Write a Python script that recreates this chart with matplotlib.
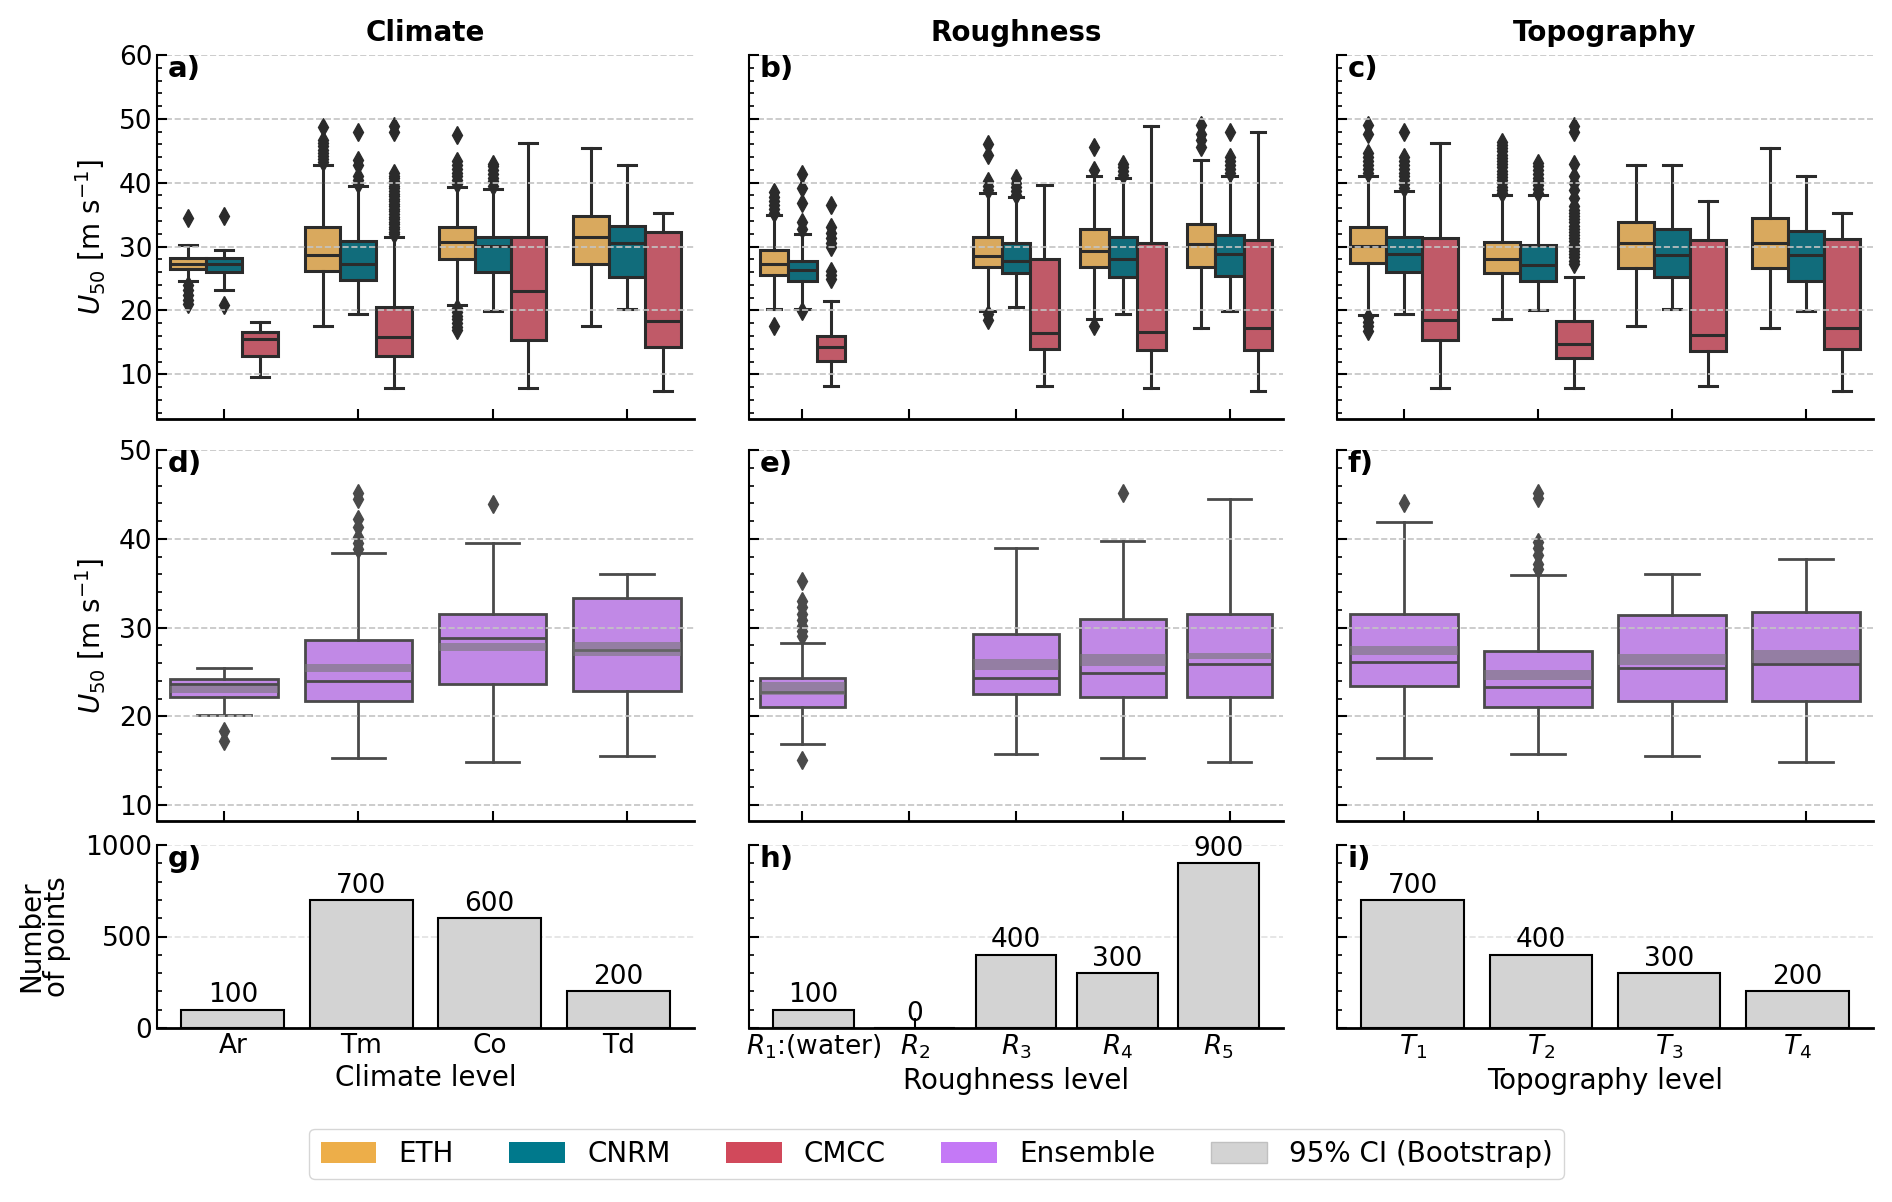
import colorsys
import matplotlib
matplotlib.use('Agg')
import matplotlib.pyplot as plt
from matplotlib.colors import to_rgb
from matplotlib.patches import Patch
from matplotlib.ticker import AutoMinorLocator, MultipleLocator

# ---------------- data ----------------
climate_levels = ['Ar', 'Tm', 'Co', 'Td']
rough_levels = ['$R_1$:(water)', '$R_2$', '$R_3$', '$R_4$', '$R_5$']
topo_levels = ['$T_1$', '$T_2$', '$T_3$', '$T_4$']

# box stats per level: (q1, median, q3, lower whisker, upper whisker)
eth_climate = [(26.5, 27.3, 28.2, 24.6, 30.3), (26.1, 28.7, 33.1, 17.6, 42.7),
               (28.0, 30.7, 33.1, 20.9, 39.3), (27.3, 31.5, 34.8, 17.6, 45.4)]
cnrm_climate = [(26.0, 27.2, 28.2, 23.2, 29.4), (24.8, 27.3, 30.8, 19.5, 39.5),
                (26.0, 30.1, 31.5, 19.9, 39.0), (25.3, 30.5, 33.3, 20.2, 42.8)]
cmcc_climate = [(12.9, 15.6, 16.6, 9.6, 18.2), (12.9, 15.8, 20.5, 7.8, 31.5),
                (15.3, 23.0, 31.5, 7.8, 46.2), (14.2, 18.4, 32.3, 7.4, 35.3)]
eth_climate_fliers = [[34.4, 24.0, 23.2, 22.4, 21.6, 21.0],
                      [43.2, 43.7, 44.2, 44.7, 45.2, 45.7, 46.2, 46.7, 48.8],
                      [39.8, 40.4, 41.0, 41.6, 42.2, 42.8, 43.4, 47.4,
                       20.4, 19.8, 19.2, 18.6, 18.0, 17.4, 16.9],
                      []]
cnrm_climate_fliers = [[34.8, 20.8],
                       [39.8, 40.4, 41.0, 42.8, 43.5, 48.0],
                       [39.5, 40.2, 40.8, 41.4, 42.0, 42.6, 43.0],
                       []]
cmcc_climate_fliers = [[],
                       [31.9, 32.3, 32.7, 33.1, 33.5, 33.9, 34.3, 34.7, 35.1, 35.5,
                        35.9, 36.3, 36.7, 37.1, 37.5, 37.9, 38.3, 38.7, 39.1, 39.5,
                        39.9, 40.3, 40.7, 41.1, 41.6, 47.9, 48.9],
                       [],
                       []]

eth_rough = [(25.5, 27.3, 29.4, 20.3, 34.9), None, (26.8, 28.5, 31.5, 19.9, 38.4),
             (26.8, 29.3, 32.7, 18.6, 41.0), (26.8, 30.4, 33.6, 17.2, 43.5)]
cnrm_rough = [(24.6, 26.3, 27.8, 20.3, 31.9), None, (25.9, 27.8, 30.6, 20.5, 37.7),
              (25.3, 28.1, 31.5, 19.4, 40.8), (25.4, 28.8, 31.8, 19.9, 41.1)]
cmcc_rough = [(12.1, 14.3, 16.0, 8.2, 21.4), None, (13.9, 16.5, 28.1, 8.2, 39.6),
              (13.8, 16.6, 30.5, 7.8, 48.9), (13.8, 17.2, 31.1, 7.4, 47.9)]
eth_rough_fliers = [[35.3, 35.9, 36.5, 37.1, 37.8, 38.6, 17.5], [],
                    [38.8, 39.5, 40.3, 44.3, 46.1, 19.5, 18.5],
                    [42.0, 45.6, 17.5],
                    [45.6, 46.7, 47.7, 49.0]]
cnrm_rough_fliers = [[32.8, 33.8, 36.9, 39.2, 41.3, 19.9], [],
                     [38.1, 38.7, 39.4, 40.0, 40.7],
                     [41.2, 41.8, 42.4, 43.0],
                     [41.5, 42.1, 42.7, 43.4, 44.0, 48.0]]
cmcc_rough_fliers = [[24.9, 25.5, 26.2, 29.9, 30.6, 31.4, 32.2, 33.0, 36.5], [], [], [], []]

eth_topo = [(27.4, 30.1, 33.1, 19.3, 41.0), (25.9, 28.0, 30.7, 18.6, 38.0),
            (26.7, 30.5, 33.9, 17.6, 42.7), (26.7, 30.6, 34.5, 17.2, 45.4)]
cnrm_topo = [(26.0, 28.9, 31.5, 19.4, 38.7), (24.6, 27.1, 30.2, 20.1, 38.0),
             (25.3, 28.75, 32.8, 20.2, 42.7), (24.6, 28.75, 32.5, 19.9, 41.1)]
cmcc_topo = [(15.4, 18.5, 31.4, 7.9, 46.2), (12.6, 14.8, 18.3, 7.8, 25.3),
             (13.6, 16.2, 31.0, 8.1, 37.2), (13.9, 17.3, 31.2, 7.4, 35.3)]
eth_topo_fliers = [[41.6, 42.2, 42.8, 43.4, 44.0, 44.6, 47.7, 49.0, 18.9, 18.2, 17.5, 16.8],
                   [38.4, 38.9, 39.4, 39.9, 40.4, 40.9, 41.4, 41.9, 42.4, 42.9, 43.4,
                    43.9, 44.4, 44.9, 45.4, 45.9, 46.4],
                   [], []]
cnrm_topo_fliers = [[39.2, 39.8, 40.4, 41.0, 41.6, 42.2, 42.8, 43.4, 44.0, 48.0],
                    [38.4, 39.0, 39.6, 40.2, 40.8, 41.4, 42.0, 42.6, 43.1],
                    [], []]
cmcc_topo_fliers = [[],
                    [27.3, 27.8, 28.3, 28.8, 29.3, 29.8, 30.3, 30.8, 31.3, 31.8, 32.3,
                     32.8, 33.3, 33.8, 34.3, 34.8, 35.3, 35.8, 36.3, 37.6, 38.8, 39.9,
                     41.1, 43.0, 47.9, 48.9],
                    [], []]

# ensemble boxes, fliers and bootstrap 95% CI (low, high)
ens_climate = [(22.2, 23.6, 24.2, 20.1, 25.4), (21.7, 24.0, 28.6, 15.3, 38.4),
               (23.6, 28.8, 31.5, 14.9, 39.5), (22.9, 27.5, 33.3, 15.5, 36.0)]
ens_climate_fliers = [[18.3, 17.2], [38.9, 39.5, 40.2, 41.3, 42.2, 44.5, 45.2], [43.9], []]
ens_climate_ci = [(22.6, 23.4), (25.0, 25.9), (27.3, 28.3), (26.8, 28.4)]

ens_rough = [(21.0, 22.7, 24.3, 16.9, 28.2), None, (22.5, 24.3, 29.3, 15.7, 39.0),
             (22.2, 24.9, 31.0, 15.3, 39.7), (22.2, 25.9, 31.5, 14.9, 44.5)]
ens_rough_fliers = [[29.0, 29.6, 30.2, 30.8, 31.5, 32.3, 33.0, 35.2, 15.1], [], [], [45.1], []]
ens_rough_ci = [(22.4, 23.9), None, (25.2, 26.4), (25.7, 27.0), (26.4, 27.1)]

ens_topo = [(23.4, 26.1, 31.5, 15.3, 41.9), (21.1, 23.3, 27.4, 15.7, 35.9),
            (21.7, 25.4, 31.4, 15.5, 36.0), (21.7, 25.9, 31.7, 14.9, 37.7)]
ens_topo_fliers = [[44.0], [36.6, 37.2, 38.2, 39.0, 39.6, 44.6, 45.1], [], []]
ens_topo_ci = [(26.9, 27.9), (24.1, 25.2), (25.8, 27.0), (26.0, 27.5)]

climate_counts = [100, 700, 600, 200]
rough_counts = [100, 0, 400, 300, 900]
topo_counts = [700, 400, 300, 200]

# ---------------- style ----------------
model_names = ['ETH', 'CNRM', 'CMCC']
model_colors = ['#edae49', '#00798c', '#d1495b']
ens_color = '#c479f6'
ci_color = '#d3d3d3'
FS = 20


def desaturate(color, prop=0.75):
    h, l, s = colorsys.rgb_to_hls(*to_rgb(color))
    return colorsys.hls_to_rgb(h, l, s * prop)


def box_stats(vals, fliers):
    q1, med, q3, lo, hi = vals
    return {'q1': q1, 'med': med, 'q3': q3, 'whislo': lo, 'whishi': hi, 'fliers': fliers}


def draw_boxes(ax, stats, fliers, positions, width, face, edge, lw):
    for s, f, p in zip(stats, fliers, positions):
        if s is None:
            continue
        ax.bxp([box_stats(s, f)], positions=[p], widths=width, patch_artist=True,
               manage_ticks=False,
               boxprops=dict(facecolor=face, edgecolor=edge, linewidth=lw),
               medianprops=dict(color=edge, linewidth=lw),
               whiskerprops=dict(color=edge, linewidth=lw),
               capprops=dict(color=edge, linewidth=lw),
               flierprops=dict(marker='d', markerfacecolor=edge, markeredgecolor=edge,
                               markersize=9, linestyle='none'))


def style_axes(ax, n, ylim, major, minor_n, set_x=True):
    if set_x:
        ax.set_xlim(-0.5, n - 0.5)
    ax.set_ylim(*ylim)
    ax.set_xticks(range(n))
    ax.yaxis.set_major_locator(MultipleLocator(major))
    ax.yaxis.set_minor_locator(AutoMinorLocator(minor_n))
    ax.spines['top'].set_visible(False)
    ax.spines['right'].set_visible(False)
    ax.spines['left'].set_linewidth(1.5)
    ax.spines['bottom'].set_linewidth(2)
    ax.tick_params(axis='both', which='major', direction='in', length=7, width=1.5,
                   labelsize=FS - 1)
    ax.tick_params(axis='y', which='minor', direction='in', length=3.5, width=1.2)
    ax.grid(axis='y', which='major', linestyle='--', color='#c4c4c4', linewidth=1.2)
    ax.set_axisbelow(False)


W, H = 1892, 1202
fig = plt.figure(figsize=(W / 100, H / 100), dpi=100)

cols_px = [(157, 694), (749, 1283), (1337, 1873)]
rows_px = [(55, 419), (450, 821), (845, 1028)]
axes = [[fig.add_axes([l / W, 1 - b / H, (r - l) / W, (b - t) / H]) for (l, r) in cols_px]
        for (t, b) in rows_px]

factors = [
    ('Climate', 'Climate level', climate_levels,
     [eth_climate, cnrm_climate, cmcc_climate],
     [eth_climate_fliers, cnrm_climate_fliers, cmcc_climate_fliers],
     ens_climate, ens_climate_fliers, ens_climate_ci, climate_counts),
    ('Roughness', 'Roughness level', rough_levels,
     [eth_rough, cnrm_rough, cmcc_rough],
     [eth_rough_fliers, cnrm_rough_fliers, cmcc_rough_fliers],
     ens_rough, ens_rough_fliers, ens_rough_ci, rough_counts),
    ('Topography', 'Topography level', topo_levels,
     [eth_topo, cnrm_topo, cmcc_topo],
     [eth_topo_fliers, cnrm_topo_fliers, cmcc_topo_fliers],
     ens_topo, ens_topo_fliers, ens_topo_ci, topo_counts),
]

letters = 'abcdefghi'
hue_w = 0.8 / 3

for j, (title, xlabel, levels, m_stats, m_fliers, e_stats, e_fliers, e_ci, counts) in enumerate(factors):
    n = len(levels)

    # row 1: per model
    ax = axes[0][j]
    for k in range(3):
        pos = [i + (k - 1) * hue_w for i in range(n)]
        draw_boxes(ax, m_stats[k], m_fliers[k], pos, hue_w,
                   desaturate(model_colors[k]), '#2b2b2b', 2.2)
    style_axes(ax, n, (3, 60), 10, 5)
    ax.set_xticklabels([])
    ax.set_title(title, fontsize=FS, fontweight='bold', pad=10)

    # row 2: ensemble + bootstrap CI band
    ax = axes[1][j]
    draw_boxes(ax, e_stats, e_fliers, list(range(n)), 0.8,
               desaturate(ens_color), '#4a4a4a', 2.0)
    for i, ci in enumerate(e_ci):
        if ci is None:
            continue
        ax.bar(i, ci[1] - ci[0], bottom=ci[0], width=0.8, color='#777777',
               alpha=0.6, zorder=3, linewidth=0)
    style_axes(ax, n, (8.2, 50), 10, 5)
    ax.set_xticklabels([])

    # row 3: number of points (x limits left to matplotlib's default margins)
    ax = axes[2][j]
    bars = ax.bar(range(n), counts, width=0.8, color=ci_color, edgecolor='black',
                  linewidth=1.5, zorder=1)
    ax.bar_label(bars, fontsize=FS - 1, padding=1)
    style_axes(ax, n, (0, 1000), 500, 5, set_x=False)
    ax.grid(axis='y', which='major', linestyle='--', color='#e2e2e2', linewidth=1.2)
    ax.set_axisbelow(True)
    ax.set_xticklabels(levels, fontsize=FS - 1)
    ax.set_xlabel(xlabel, fontsize=FS, labelpad=4)

    for r in range(3):
        if j > 0:
            axes[r][j].set_yticklabels([])
        axes[r][j].text(0.02, 1.0, letters[3 * r + j] + ')', transform=axes[r][j].transAxes,
                        fontsize=FS + 1, fontweight='bold', va='top', ha='left', zorder=10)

axes[0][0].set_ylabel('$U_{50}$ [m s$^{-1}$]', fontsize=FS, labelpad=8)
axes[1][0].set_ylabel('$U_{50}$ [m s$^{-1}$]', fontsize=FS, labelpad=8)
axes[2][0].set_ylabel('Number\nof points', fontsize=FS, labelpad=10, linespacing=0.9)

handles = [Patch(facecolor=c, edgecolor='none') for c in model_colors]
handles.append(Patch(facecolor=ens_color, edgecolor='none'))
handles.append(Patch(facecolor=ci_color, edgecolor='#c0c0c0'))
labels = model_names + ['Ensemble', '95% CI (Bootstrap)']
fig.legend(handles, labels, loc='center', bbox_to_anchor=(0.495, 0.040), ncol=5,
           fontsize=FS, frameon=True, edgecolor='#cccccc', columnspacing=2.0,
           handlelength=2.0, handleheight=0.8)

fig.savefig('out.png', dpi=100)
